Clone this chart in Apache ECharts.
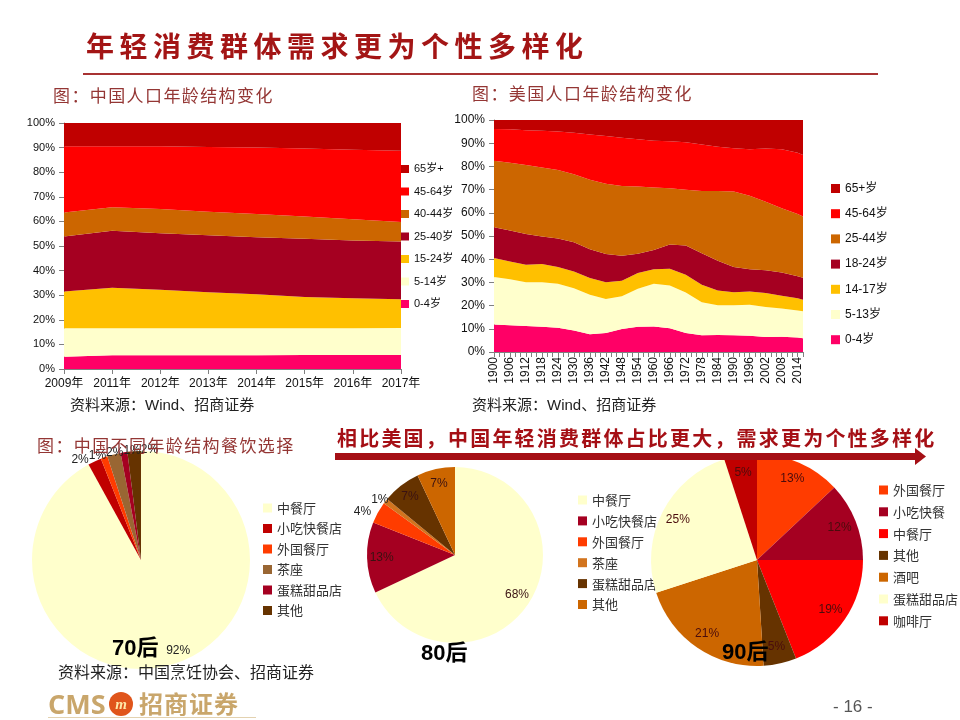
<!DOCTYPE html>
<html>
<head>
<meta charset="utf-8">
<script src="https://cdn.jsdelivr.net/npm/echarts@6/dist/echarts.min.js"></script>
<style>
  body { margin: 0; width: 960px; height: 720px; position: relative; background: #fff; overflow: hidden;
         font-family: "Liberation Sans", "Noto Sans CJK SC", sans-serif; }
  .layer { position: absolute; left: 0; top: 0; width: 960px; height: 720px; }
  .txt { position: absolute; white-space: nowrap; line-height: 1; }
  .cap { font-family: "Noto Sans CJK SC", sans-serif; font-size: 17px; letter-spacing: 1.4px; color: #943634; }
  .src { font-family: "Liberation Sans", "Noto Sans CJK SC", sans-serif; font-size: 15px; color: #222; }
  .gen { font-family: "Liberation Sans", "Noto Sans CJK SC", sans-serif; font-size: 22px; font-weight: bold; color: #000; }
</style>
</head>
<body>
<div id="cnArea" class="layer"></div>
<div id="usArea" class="layer"></div>
<div id="pie70" class="layer"></div>
<div id="pie80" class="layer"></div>
<div id="pie90" class="layer"></div>

<div class="txt" style="left:86px;top:31px;font-size:28px;font-weight:bold;letter-spacing:5.5px;color:#a31515;font-family:'Noto Sans CJK SC',sans-serif">年轻消费群体需求更为个性多样化</div>
<div style="position:absolute;left:83px;top:73px;width:795px;height:2px;background:#a83232"></div>

<div class="txt cap" style="left:53px;top:86px">图：中国人口年龄结构变化</div>
<div class="txt cap" style="left:472px;top:84px">图：美国人口年龄结构变化</div>
<div class="txt src" style="left:70px;top:397px">资料来源：Wind、招商证券</div>
<div class="txt src" style="left:472px;top:397px">资料来源：Wind、招商证券</div>
<div class="txt cap" style="left:37px;top:436px">图：中国不同年龄结构餐饮选择</div>

<div class="txt" style="left:337px;top:428px;font-size:20px;font-weight:bold;letter-spacing:2.2px;color:#a50f15;font-family:'Noto Sans CJK SC',sans-serif">相比美国，中国年轻消费群体占比更大，需求更为个性多样化</div>
<svg style="position:absolute;left:330px;top:446px" width="600" height="20">
  <rect x="5" y="7" width="582" height="7" fill="#a50f15"/>
  <polygon points="585,2 596,10.5 585,19" fill="#a50f15"/>
</svg>

<div class="txt gen" style="left:112px;top:637px">70后</div>
<div class="txt gen" style="left:421px;top:642px">80后</div>
<div class="txt gen" style="left:722px;top:641px">90后</div>

<div class="txt src" style="left:58px;top:665px;font-size:16px">资料来源：中国烹饪协会、招商证券</div>
<div class="txt" style="left:48px;top:690px;font-size:27px;font-weight:bold;color:#c9a66b;font-family:'Open Sans',sans-serif">CMS</div>
<svg style="position:absolute;left:108px;top:691px" width="26" height="26">
  <circle cx="13" cy="13" r="12" fill="#e0551b"/>
  <text x="13" y="18" text-anchor="middle" font-size="15" font-style="italic" font-weight="bold" fill="#ffe9a8" font-family="Liberation Serif">m</text>
</svg>
<div class="txt" style="left:139px;top:691px;font-size:24px;font-weight:bold;letter-spacing:1px;color:#c9a66b;font-family:'Noto Sans CJK SC',sans-serif">招商证券</div>
<div style="position:absolute;left:48px;top:717px;width:208px;height:1px;background:#e3d2b0"></div>
<div class="txt" style="left:833px;top:698px;font-size:17px;color:#555">- 16 -</div>

<script>
// ---- 中国人口年龄结构 (%)
const cnYears = ['2009年', '2011年', '2012年', '2013年', '2014年', '2015年', '2016年', '2017年']
const cnAge0_4 = [5.0, 5.6, 5.6, 5.6, 5.6, 5.7, 5.7, 5.7]
const cnAge5_14 = [11.6, 11.0, 11.0, 11.0, 11.0, 10.9, 10.9, 11.0]
const cnAge15_24 = [14.9, 16.4, 15.6, 14.6, 13.8, 12.7, 12.2, 11.7]
const cnAge25_40 = [22.4, 23.2, 23.0, 23.2, 23.2, 23.6, 23.4, 23.4]
const cnAge40_44 = [9.7, 9.6, 9.8, 9.5, 9.4, 9.1, 8.7, 8.0]
const cnAge45_64 = [26.9, 24.7, 25.5, 26.3, 27.0, 27.6, 28.2, 28.9]
const cnAge65 = [9.5, 9.5, 9.5, 9.8, 10.0, 10.4, 10.9, 11.3]

// ---- 美国人口年龄结构 (%)
const usYears = [1900, 1906, 1912, 1918, 1924, 1930, 1936, 1942, 1948, 1954, 1960,
  1966, 1972, 1978, 1984, 1990, 1996, 2002, 2008, 2014, 2016]
const usAge0_4 = [11.8, 11.5, 11.2, 10.9, 10.5, 9.3, 7.6, 8.2, 9.9, 10.9, 11.0, 10.2, 8.2, 7.2, 7.3, 7.2, 7.0, 6.5, 6.6, 6.2, 5.9]
const usAge5_13 = [20.5, 19.9, 18.9, 19.2, 18.9, 18.2, 17.1, 14.6, 14.1, 16.4, 18.4, 18.5, 17.5, 14.2, 12.8, 12.9, 13.4, 12.9, 12.2, 11.7, 11.7]
const usAge14_17 = [8.2, 7.6, 7.5, 7.8, 7.2, 7.2, 7.2, 7.3, 6.7, 6.7, 6.3, 7.2, 7.6, 7.6, 6.4, 5.7, 5.7, 6.0, 5.4, 5.3, 4.9]
const usAge18_24 = [13.3, 13.4, 13.3, 11.9, 12.3, 12.6, 12.4, 12.1, 10.8, 8.3, 8.3, 10.4, 12.6, 13.6, 12.8, 10.8, 9.6, 9.8, 10.1, 9.4, 9.5]
const usAge25_44 = [28.6, 29.2, 29.7, 29.7, 29.6, 29.3, 29.9, 30.3, 30.1, 29.0, 26.9, 24.3, 24.0, 26.8, 30.1, 32.6, 31.6, 29.6, 27.7, 26.9, 26.4]
const usAge45_64 = [13.7, 14.4, 15.0, 15.9, 16.5, 17.9, 19.6, 20.6, 20.8, 20.4, 20.2, 20.2, 20.5, 20.0, 19.1, 18.6, 20.1, 22.9, 25.4, 26.4, 26.5]
const usAge65 = [3.9, 4.0, 4.4, 4.6, 5.0, 5.5, 6.2, 6.9, 7.6, 8.3, 8.9, 9.2, 9.6, 10.6, 11.5, 12.2, 12.6, 12.3, 12.6, 14.1, 15.1]

// ---- 餐饮选择 (%)
const pie70Names = ['中餐厅', '小吃快餐店', '外国餐厅', '茶座', '蛋糕甜品店', '其他']
const pie70Values = [92, 2, 1, 2, 1, 2]
const pie80Names = ['中餐厅', '小吃快餐店', '外国餐厅', '茶座', '蛋糕甜品店', '其他']
const pie80Values = [68, 13, 4, 1, 7, 7]
const pie90Names = ['外国餐厅', '小吃快餐', '中餐厅', '其他', '酒吧', '蛋糕甜品店', '咖啡厅']
const pie90Values = [13, 12, 19, 5, 21, 25, 5]

const LATIN = '"Liberation Sans", "Noto Sans CJK SC", sans-serif'
const AXIS_GREY = '#808080'

function areaSeries (name, data, color, extra) {
  return Object.assign({
    name: name,
    type: 'line',
    stack: 'total',
    data: data,
    symbol: 'none',
    lineStyle: { width: 0 },
    itemStyle: { color: color },
    areaStyle: { color: color, opacity: 1 },
    emphasis: { disabled: true }
  }, extra || {})
}

function yAxisPct (fontSize) {
  return {
    type: 'value',
    min: 0,
    max: 100,
    interval: 10,
    axisLine: { show: true, lineStyle: { color: AXIS_GREY } },
    axisTick: { show: true, length: 5, lineStyle: { color: AXIS_GREY } },
    splitLine: { show: false },
    axisLabel: { formatter: '{value}%', fontSize: fontSize, color: '#111', margin: 9, fontFamily: LATIN }
  }
}

// 中国
const cnChart = echarts.init(document.getElementById('cnArea'))
cnChart.setOption({
  animation: false,
  grid: { left: 64, top: 123, width: 337, height: 246 },
  legend: {
    orient: 'vertical', left: 396, top: 157, icon: 'rect',
    itemWidth: 8, itemHeight: 8, itemGap: 8.5,
    textStyle: { fontSize: 11, lineHeight: 14, color: '#111', fontFamily: LATIN },
    data: ['65岁+', '45-64岁', '40-44岁', '25-40岁', '15-24岁', '5-14岁', '0-4岁']
  },
  xAxis: {
    type: 'category',
    data: cnYears,
    boundaryGap: false,
    axisLine: { lineStyle: { color: AXIS_GREY } },
    axisTick: { show: true, length: 5, lineStyle: { color: AXIS_GREY } },
    axisLabel: { fontSize: 12, color: '#111', margin: 9, interval: 0, fontFamily: LATIN }
  },
  yAxis: yAxisPct(11),
  series: [
    areaSeries('0-4岁', cnAge0_4, '#ff0066'),
    areaSeries('5-14岁', cnAge5_14, '#ffffcc'),
    areaSeries('15-24岁', cnAge15_24, '#ffc000'),
    areaSeries('25-40岁', cnAge25_40, '#a50021'),
    areaSeries('40-44岁', cnAge40_44, '#cc6600'),
    areaSeries('45-64岁', cnAge45_64, '#ff0000'),
    areaSeries('65岁+', cnAge65, '#c00000')
  ]
})

// 美国：数值型横轴；占比放在第 0 维，让堆叠作用在占比上
const pairs = arr => arr.map((v, i) => [v, usYears[i]])
const usEncode = { encode: { x: 1, y: 0 } }
const usChart = echarts.init(document.getElementById('usArea'))
usChart.setOption({
  animation: false,
  grid: { left: 494, top: 120, width: 309, height: 232 },
  legend: {
    orient: 'vertical', left: 826, top: 176, icon: 'rect',
    itemWidth: 9, itemHeight: 9, itemGap: 10.2,
    textStyle: { fontSize: 12, lineHeight: 15, color: '#111', fontFamily: LATIN },
    data: ['65+岁', '45-64岁', '25-44岁', '18-24岁', '14-17岁', '5-13岁', '0-4岁']
  },
  xAxis: {
    type: 'value',
    min: 1900,
    max: 2016,
    interval: 6,
    axisLine: { lineStyle: { color: AXIS_GREY } },
    axisTick: { show: true, length: 5, lineStyle: { color: AXIS_GREY } },
    minorTick: { show: true, splitNumber: 3, length: 5, lineStyle: { color: AXIS_GREY } },
    splitLine: { show: false },
    axisLabel: {
      rotate: 90, fontSize: 12, color: '#111', margin: 5, fontFamily: LATIN,
      showMaxLabel: false, formatter: v => String(v)
    }
  },
  yAxis: yAxisPct(12),
  series: [
    areaSeries('0-4岁', pairs(usAge0_4), '#ff0066', usEncode),
    areaSeries('5-13岁', pairs(usAge5_13), '#ffffcc', usEncode),
    areaSeries('14-17岁', pairs(usAge14_17), '#ffc000', usEncode),
    areaSeries('18-24岁', pairs(usAge18_24), '#a50021', usEncode),
    areaSeries('25-44岁', pairs(usAge25_44), '#cc6600', usEncode),
    areaSeries('45-64岁', pairs(usAge45_64), '#ff0000', usEncode),
    areaSeries('65+岁', pairs(usAge65), '#c00000', usEncode)
  ]
})

// 饼图：一个可见饼 + 一个透明饼（只放内部标签，使标签落在约 0.8 半径处）
function pieOption (cfg) {
  const visible = cfg.names.map((n, i) => ({
    name: n,
    value: cfg.values[i],
    itemStyle: { color: cfg.colors[i] },
    label: { show: cfg.outside.indexOf(i) >= 0 }
  }))
  const ghost = cfg.names.map((n, i) => ({
    name: n,
    value: cfg.values[i],
    itemStyle: { color: 'rgba(0,0,0,0)' },
    label: { show: cfg.outside.indexOf(i) < 0 }
  }))
  return {
    animation: false,
    legend: {
      orient: 'vertical', left: cfg.legendLeft, top: cfg.legendTop, icon: 'rect',
      itemWidth: 9, itemHeight: 9, itemGap: cfg.legendGap,
      textStyle: { fontSize: 13, lineHeight: 16, color: '#333', fontFamily: '"Noto Sans CJK SC", sans-serif' },
      data: cfg.names
    },
    series: [
      {
        type: 'pie',
        center: cfg.center,
        radius: cfg.r,
        startAngle: 90,
        clockwise: true,
        avoidLabelOverlap: false,
        emphasis: { disabled: true },
        data: visible,
        label: { position: 'outside', formatter: '{c}%', fontSize: 12, color: '#222', fontFamily: LATIN },
        labelLine: { show: false, length: 2, length2: 0 },
        labelLayout: { moveOverlap: 'shiftX' }
      },
      {
        type: 'pie',
        center: cfg.center,
        radius: [cfg.r * cfg.inner, cfg.r],
        startAngle: 90,
        clockwise: true,
        silent: true,
        avoidLabelOverlap: false,
        emphasis: { disabled: true },
        data: ghost,
        label: { position: 'inside', formatter: '{c}%', fontSize: 12, color: cfg.labelColor, fontFamily: LATIN },
        labelLine: { show: false },
        labelLayout: cfg.ghostShift || {}
      }
    ]
  }
}

echarts.init(document.getElementById('pie70')).setOption(pieOption({
  names: pie70Names,
  values: pie70Values,
  colors: ['#ffffcc', '#c00000', '#ff3c00', '#996633', '#a50021', '#663300'],
  center: [141, 560], r: 109, inner: 0.8,
  outside: [1, 2, 3, 4, 5],
  labelColor: '#222',
  ghostShift: { dx: 12, dy: -7 },
  legendLeft: 258, legendTop: 495, legendGap: 4.5
}))

echarts.init(document.getElementById('pie80')).setOption(pieOption({
  names: pie80Names,
  values: pie80Values,
  colors: ['#ffffcc', '#a50021', '#ff3c00', '#d2741e', '#663300', '#cc6600'],
  center: [455, 555], r: 88, inner: 0.6,
  outside: [2, 3],
  labelColor: '#3a1212',
  legendLeft: 573, legendTop: 487, legendGap: 4.9
}))

echarts.init(document.getElementById('pie90')).setOption(pieOption({
  names: pie90Names,
  values: pie90Values,
  colors: ['#ff3c00', '#a50021', '#ff0000', '#663300', '#cc6600', '#ffffcc', '#c00000'],
  center: [757, 560], r: 106, inner: 0.62,
  outside: [],
  labelColor: '#4a0c0c',
  legendLeft: 874, legendTop: 477, legendGap: 5.8
}))
</script>
</body>
</html>
